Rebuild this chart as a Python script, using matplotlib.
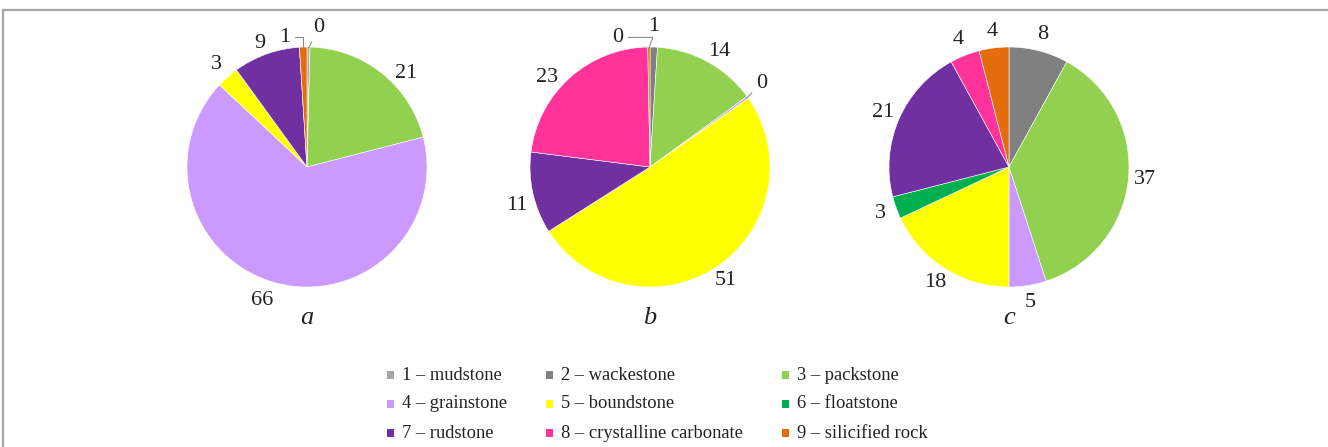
import matplotlib
matplotlib.use("Agg")
import matplotlib.pyplot as plt
from matplotlib.lines import Line2D
from matplotlib.patches import Rectangle
import numpy as np

# ---------------- data ----------------
categories = ["1 – mudstone", "2 – wackestone", "3 – packstone",
              "4 – grainstone", "5 – boundstone", "6 – floatstone",
              "7 – rudstone", "8 – crystalline carbonate", "9 – silicified rock"]
colors = ["#a6a6a6", "#808080", "#92d050", "#cc99ff", "#ffff00",
          "#00b050", "#7030a0", "#ff3399", "#e46c0a"]

values_a = [0.4, 0, 20.6, 66, 3, 0, 9, 0, 1]
values_b = [0, 1, 14, 0.3, 50.7, 0, 11, 22.7, 0.3]
values_c = [0, 8, 37, 5, 18, 3, 21, 4, 4]
panel_names = ["a", "b", "c"]

# ---------------- layout ----------------
W, H = 1328, 447
fig = plt.figure(figsize=(W / 100, H / 100), dpi=100)
plt.rcParams['font.family'] = ['Liberation Serif', 'DejaVu Serif']

TXT = "#222222"
LEAD = "#8c8c8c"
R = 120.0          # pie radius in pixels
LIM = 1.55
LFS = 16
centers = [(307, 167), (650, 167), (1009, 167)]

# label overrides (text position in pie units, connection style or None)
overrides = {
    (0, 0): ((0.10, 1.16), "arc3"),
    (0, 8): ((-0.19, 1.08), "angle,angleA=0,angleB=90,rad=0"),
    (0, 2): ((0.83, 0.78), None),
    (0, 3): ((-0.37, -1.11), None),
    (0, 6): ((-0.39, 1.03), None),
    (1, 8): ((-0.27, 1.08), "angle,angleA=0,angleB=70,rad=0"),
    (1, 3): ((0.93, 0.70), "arc3"),
    (1, 1): ((0.03, 1.17), None),
    (1, 2): ((0.58, 0.96), None),
    (1, 7): ((-0.86, 0.75), None),
    (1, 6): ((-1.11, -0.32), None),
}

# figure border (top and left only visible)
fig.add_artist(Line2D([3.5 / W, 1.0], [1 - 9.5 / H, 1 - 9.5 / H],
                      transform=fig.transFigure, color="#a6a6a6", lw=1.6))
fig.add_artist(Line2D([3.5 / W, 3.5 / W], [1 - 9.5 / H, 0.0],
                      transform=fig.transFigure, color="#a6a6a6", lw=1.6))

for p, (vals, (cx, cy)) in enumerate(zip([values_a, values_b, values_c], centers)):
    half = R * LIM
    ax = fig.add_axes([(cx - half) / W, 1 - (cy + half) / H, 2 * half / W, 2 * half / H])
    wedges, _ = ax.pie(vals, colors=colors, startangle=90, counterclock=False,
                       radius=1.0, wedgeprops=dict(edgecolor="white", linewidth=0.4))
    ax.set_xlim(-LIM, LIM)
    ax.set_ylim(-LIM, LIM)
    ax.set_aspect("equal")
    ax.axis("off")
    for i, (w, v) in enumerate(zip(wedges, vals)):
        if v <= 0:
            continue
        mid = np.deg2rad((w.theta1 + w.theta2) / 2)
        lab = f"{round(v)}"
        ex, ey = np.cos(mid), np.sin(mid)
        if (p, i) in overrides:
            (tx, ty), cs = overrides[(p, i)]
            if cs is None:
                ax.text(tx, ty, lab, ha="center", va="center", fontsize=LFS, color=TXT)
            else:
                ax.annotate(lab, xy=(ex * 0.99, ey * 0.99), xytext=(tx, ty),
                            ha="center", va="center", fontsize=LFS, color=TXT,
                            arrowprops=dict(arrowstyle="-", color=LEAD, lw=0.8,
                                            shrinkA=1.5, shrinkB=0,
                                            connectionstyle=cs))
        else:
            d = 1.14
            ax.text(ex * d, ey * d, lab, ha="center", va="center", fontsize=LFS, color=TXT)
    ax.text(0, (cy - 318) / R, panel_names[p], ha="center", va="center",
            fontsize=19, style="italic", color=TXT)

# legend (3 x 3, row-major)
col_x = [390, 549, 785]
row_y = [375, 404, 433]
for k, (name, col) in enumerate(zip(categories, colors)):
    r, c = divmod(k, 3)
    x, y = col_x[c], row_y[r]
    fig.add_artist(Rectangle(((x - 3.5) / W, 1 - (y + 3.5) / H), 7.5 / W, 7.5 / H,
                             transform=fig.transFigure, facecolor=col, edgecolor="none"))
    fig.text((x + 12) / W, 1 - y / H, name, ha="left", va="center",
             fontsize=13.3, color=TXT)

fig.savefig("out.png", dpi=100, facecolor="white")
